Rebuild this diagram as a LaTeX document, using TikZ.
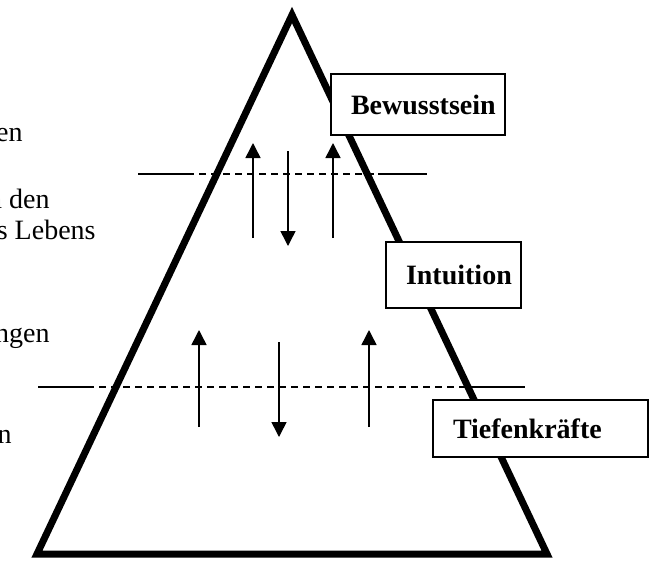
\documentclass[tikz,border=0pt]{standalone}
\usepackage{fontspec}
\setmainfont{Liberation Serif}
\usetikzlibrary{arrows.meta}

\begin{document}
\begin{tikzpicture}[x=0.5pt, y=-0.5pt,
    font=\fontsize{14pt}{16pt}\selectfont]
% Pyramide: Tiefenkraefte, Intuition, Bewusstsein
  \tikzset{Pyramid/.style  = {line width=3.5pt, line join=miter},
           LevelBox/.style = {draw, fill=white, line width=1pt,
                              font=\fontsize{14pt}{16pt}\selectfont\bfseries,
                              inner xsep=10pt, align=left},
           Border/.style   = {line width=0.75pt},
           Dash/.style     = {line width=0.75pt, dash pattern=on 3.5pt off 2.5pt},
           Flow/.style     = {line width=0.75pt,
                              -{Triangle[length=7.5pt, width=7.5pt]}},
           SideText/.style = {anchor=base east, inner sep=0pt}}
  \useasboundingbox (0,0) rectangle (652,563);

%triangle
\coordinate (top)   at (292,15);
\coordinate (right) at (547,554);
\coordinate (left)  at (37,554);
\draw[Pyramid] (top) -- (right) -- (left) -- cycle;

%border upper
\coordinate (u1) at (138,174);
\coordinate (u2) at (187,174);
\coordinate (u3) at (378,174);
\coordinate (u4) at (427,174);
\draw[Border] (u1) -- (u2);
\draw[Dash]   (u2) -- (u3);
\draw[Border] (u3) -- (u4);

%border lower
\coordinate (l1) at (38,387);
\coordinate (l2) at (87,387);
\coordinate (l3) at (477,387);
\coordinate (l4) at (525,387);
\draw[Border] (l1) -- (l2);
\draw[Dash]   (l2) -- (l3);
\draw[Border] (l3) -- (l4);

%arrows upper
\coordinate (ua0) at (253,238); \coordinate (ua1) at (253,143);
\coordinate (ub0) at (288,151); \coordinate (ub1) at (288,246);
\coordinate (uc0) at (333,238); \coordinate (uc1) at (333,143);
\draw[Flow] (ua0) -- (ua1);
\draw[Flow] (ub0) -- (ub1);
\draw[Flow] (uc0) -- (uc1);

%arrows lower
\coordinate (la0) at (199,427); \coordinate (la1) at (199,330);
\coordinate (lb0) at (279,342); \coordinate (lb1) at (279,437);
\coordinate (lc0) at (369,427); \coordinate (lc1) at (369,330);
\draw[Flow] (la0) -- (la1);
\draw[Flow] (lb0) -- (lb1);
\draw[Flow] (lc0) -- (lc1);

%levels
\node[LevelBox, text width=67pt, minimum height=30.5pt] (bewusst)
  at (418,104.5) {Bewusstsein};
\node[LevelBox, text width=47.5pt, minimum height=33pt] (intuition)
  at (453.5,275) {Intuition};
\node[LevelBox, text width=87.5pt, minimum height=28.5pt] (tiefe)
  at (540.5,428.5) {Tiefenkräfte};

%text left
\node[SideText] (t1) at (23,141) {en};
\node[SideText] (t2) at (50,208) {n den};
\node[SideText] (t3) at (96,239) {s Lebens};
\node[SideText] (t4) at (50,342) {ngen};
\node[SideText] (t5) at (12,443) {n};

\end{tikzpicture}
\end{document}
